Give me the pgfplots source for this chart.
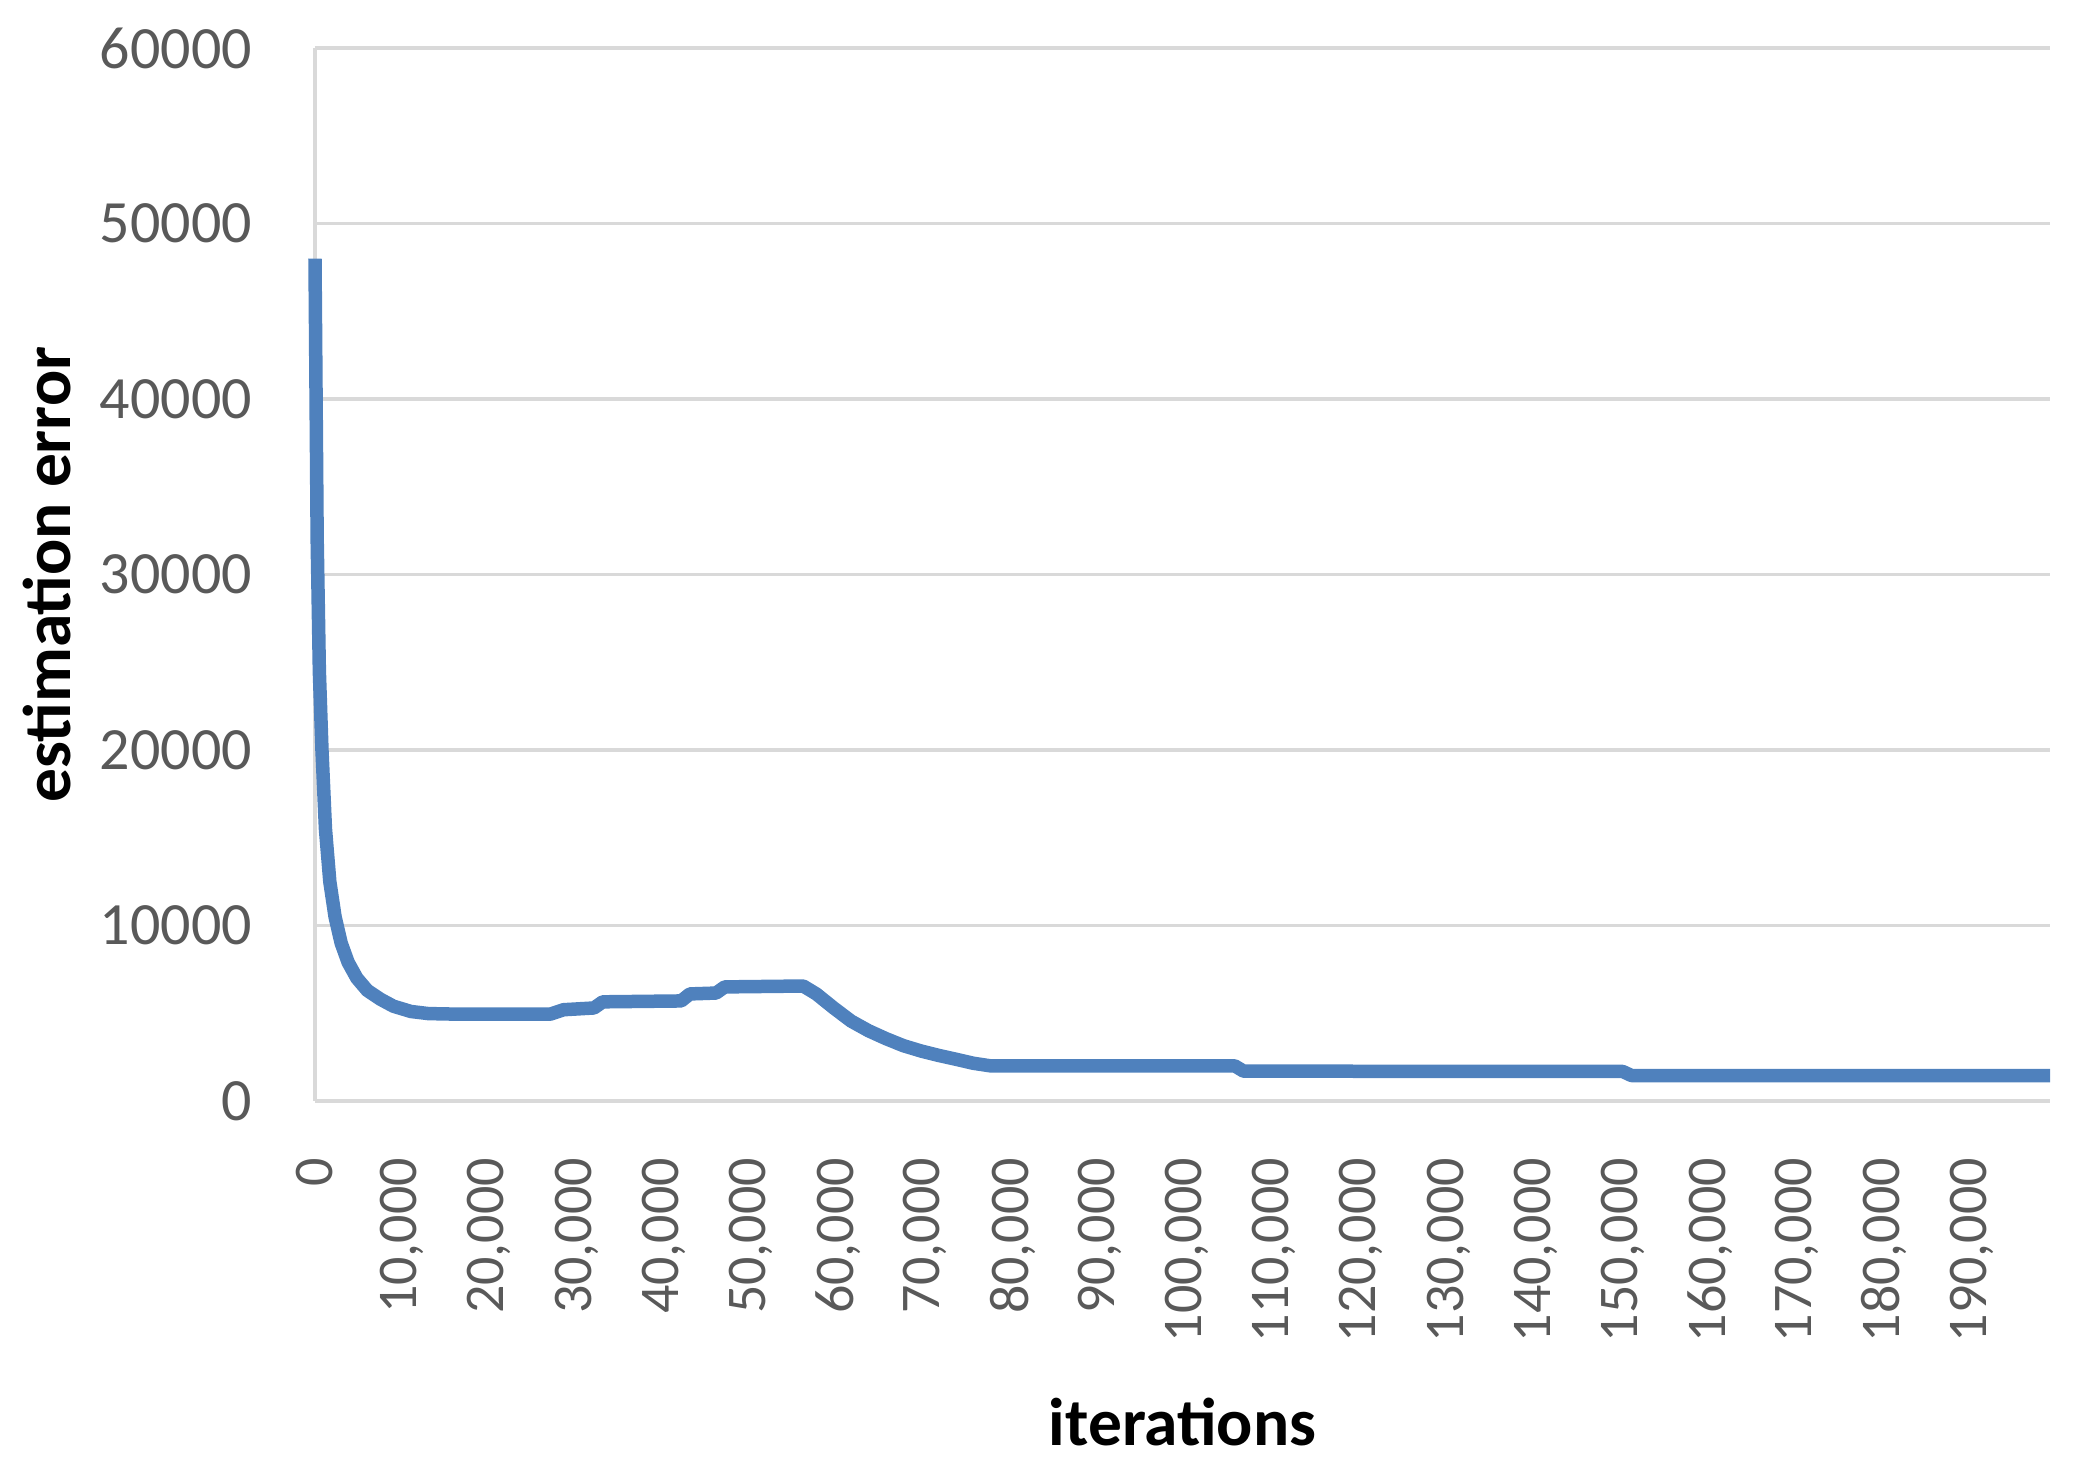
\documentclass[border=0pt]{standalone}
\usepackage{pgfplots}
\pgfplotsset{compat=1.18}
\usepackage{fontspec}
\setmainfont{Carlito}
\definecolor{lineblue}{RGB}{79,129,189}
\definecolor{gridgray}{RGB}{217,217,217}
\definecolor{ticktext}{RGB}{89,89,89}
\begin{document}
\begin{tikzpicture}
\begin{axis}[
  name=ax,
  scale only axis,
  width=347pt, height=210.6pt,
  xmin=0, xmax=199000,
  ymin=0, ymax=60000,
  axis x line=bottom, axis y line=left,
  axis line style={gridgray, line width=0.7pt, -},
  major tick length=0pt,
  scaled ticks=false,
  ymajorgrids,
  grid style={gridgray, line width=0.7pt},
  ytick={0,10000,20000,30000,40000,50000,60000},
  yticklabels={0,10000,20000,30000,40000,50000,60000},
  xtick={0,10000,20000,30000,40000,50000,60000,70000,80000,90000,100000,110000,120000,130000,140000,150000,160000,170000,180000,190000},
  xticklabels={0,{10,000},{20,000},{30,000},{40,000},{50,000},{60,000},{70,000},{80,000},{90,000},{100,000},{110,000},{120,000},{130,000},{140,000},{150,000},{160,000},{170,000},{180,000},{190,000}},
  yticklabel style={font=\fontsize{12}{14}\selectfont, text=ticktext, anchor=east, inner sep=0pt},
  yticklabel shift=12.4pt,
  xticklabel style={font=\fontsize{11.2}{13}\selectfont, text=ticktext, rotate=90, anchor=east, inner sep=0pt},
  xticklabel shift=11.2pt,
  xlabel={\bfseries iterations},
  ylabel={\bfseries estimation error},
  xlabel style={font=\fontsize{13.5}{15}\selectfont, at={(axis description cs:0.5,-0.305)}, anchor=center, inner sep=0pt},
  ylabel style={font=\fontsize{13.5}{15}\selectfont, at={(axis description cs:-0.1545,0.5)}, rotate=0, anchor=center, inner sep=0pt},
  clip=false,
]
\addplot[lineblue, line width=2.7pt, line join=round] coordinates {
(0,48000) (250,32000) (500,24500) (800,20000) (1200,15500) (1700,12500)
(2300,10500) (3000,9000) (3800,7900) (4800,7000) (6000,6300) (7500,5800)
(9000,5400) (11000,5100) (13000,4980) (16000,4950) (27000,4950)
(28500,5200) (32000,5300) (33000,5650) (42000,5700) (43000,6100)
(46000,6150) (47000,6500) (56000,6550) (57500,6100) (59500,5300)
(61500,4550) (63500,4000) (65500,3550) (67500,3150) (69500,2850)
(71500,2600) (73500,2380) (75500,2150) (77500,2000) (105500,2000)
(106500,1700) (150000,1680) (151000,1450) (199000,1450)
};
\end{axis}
\pgfresetboundingbox
\path (ax.south west) ++(-63pt,-76pt) rectangle ([xshift=8pt,yshift=9.6pt]ax.north east);
\end{tikzpicture}
\end{document}
